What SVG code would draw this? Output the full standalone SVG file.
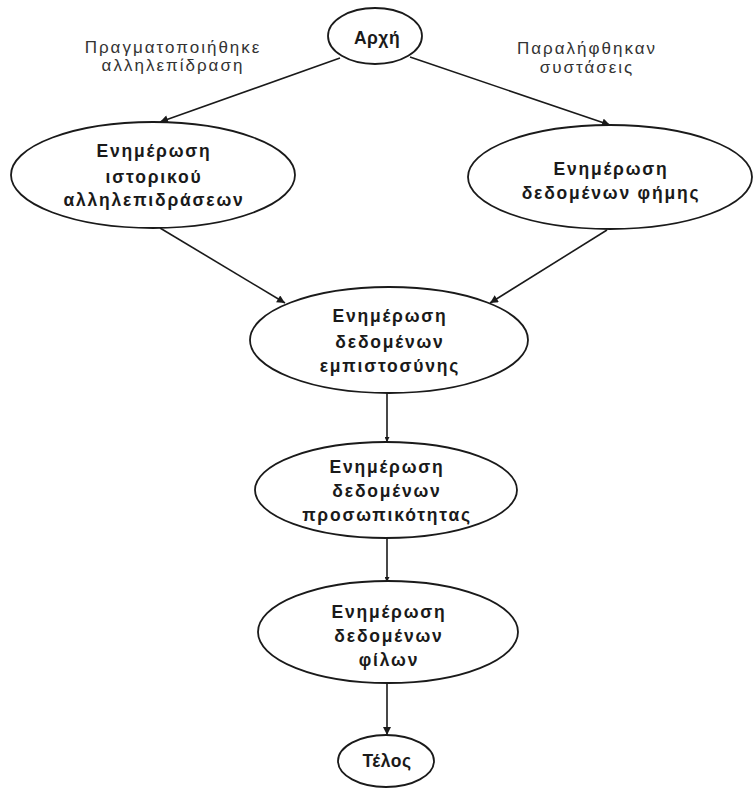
<svg xmlns="http://www.w3.org/2000/svg" width="755" height="792" viewBox="0 0 755 792">
<style>
.n{fill:#fff;stroke:#1a1a1a;stroke-width:1.8}
.t{font-family:"Liberation Sans",Arial,sans-serif;font-weight:bold;font-size:17.5px;letter-spacing:1.8px;fill:#1a1a1a;text-anchor:middle}
.s{letter-spacing:0.5px}
.l{font-family:"Liberation Sans",Arial,sans-serif;font-size:17px;letter-spacing:2px;fill:#333;text-anchor:middle}
.c{fill:none;stroke:#1a1a1a;stroke-width:1.6}
</style>
<defs>
<marker id="ah" viewBox="0 0 10 10" refX="10" refY="5" markerWidth="9" markerHeight="8" markerUnits="userSpaceOnUse" orient="auto"><path d="M0,0 L10,5 L0,10 z" fill="#1a1a1a"/></marker>
<marker id="as" viewBox="0 0 10 10" refX="10" refY="5" markerWidth="6" markerHeight="5" markerUnits="userSpaceOnUse" orient="auto"><path d="M0,0 L10,5 L0,10 z" fill="#1a1a1a"/></marker>
</defs>
<rect width="755" height="792" fill="#fff"/>
<g id="connectors">
<line class="c" x1="340" y1="58" x2="160" y2="122" marker-end="url(#ah)"/>
<line class="c" x1="410" y1="57" x2="610" y2="125" marker-end="url(#ah)"/>
<line class="c" x1="160" y1="228" x2="285" y2="303" marker-end="url(#ah)"/>
<line class="c" x1="607" y1="230" x2="490" y2="303" marker-end="url(#ah)"/>
<line class="c" x1="387" y1="393" x2="387" y2="442" marker-end="url(#as)"/>
<line class="c" x1="387" y1="538" x2="387" y2="582" marker-end="url(#as)"/>
<line class="c" x1="387" y1="684" x2="387" y2="735" marker-end="url(#ah)"/>
</g>
<g id="lbl-left"><text class="l" x="173" y="53">Πραγματοποιήθηκε</text><text class="l" x="173" y="71">αλληλεπίδραση</text></g>
<g id="lbl-right"><text class="l" x="587" y="54">Παραλήφθηκαν</text><text class="l" x="587" y="73">συστάσεις</text></g>
<g id="start"><ellipse class="n" cx="375" cy="36" rx="47" ry="28"/><text class="t s" x="377" y="44">Αρχή</text></g>
<g id="history"><ellipse class="n" cx="153" cy="175" rx="142" ry="53"/><text class="t" x="154" y="157">Ενημέρωση</text><text class="t" x="154" y="183">ιστορικού</text><text class="t" x="154" y="206">αλληλεπιδράσεων</text></g>
<g id="reputation"><ellipse class="n" cx="610" cy="177" rx="142" ry="52"/><text class="t" x="611" y="175">Ενημέρωση</text><text class="t" x="611" y="199">δεδομένων φήμης</text></g>
<g id="trust"><ellipse class="n" cx="389" cy="340" rx="139" ry="53"/><text class="t" x="390" y="322">Ενημέρωση</text><text class="t" x="390" y="348">δεδομένων</text><text class="t" x="390" y="372">εμπιστοσύνης</text></g>
<g id="personality"><ellipse class="n" cx="386" cy="490" rx="131" ry="48"/><text class="t" x="387" y="473">Ενημέρωση</text><text class="t" x="387" y="497">δεδομένων</text><text class="t" x="387" y="521">προσωπικότητας</text></g>
<g id="friends"><ellipse class="n" cx="388" cy="632" rx="130" ry="51"/><text class="t" x="389" y="618">Ενημέρωση</text><text class="t" x="389" y="642">δεδομένων</text><text class="t" x="389" y="666">φίλων</text></g>
<g id="end"><ellipse class="n" cx="386" cy="761" rx="48" ry="26"/><text class="t s" x="387" y="767">Τέλος</text></g>
</svg>
